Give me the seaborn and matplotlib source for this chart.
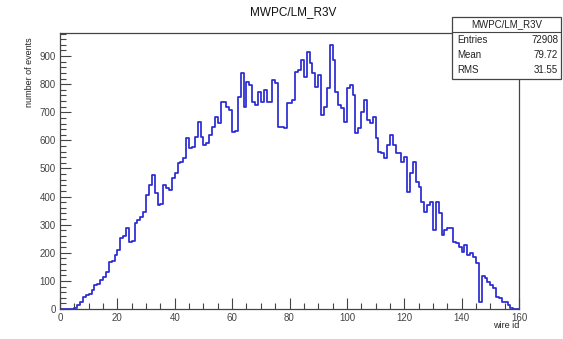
import numpy as np
import pandas as pd
import matplotlib
matplotlib.use("Agg")
import matplotlib.pyplot as plt
import seaborn as sns
from matplotlib.ticker import MultipleLocator
from matplotlib.patches import Rectangle
from matplotlib.lines import Line2D

# ---------------- data ----------------
title = "MWPC/LM_R3V"
x_label = "wire id"
y_label = "number of events"
bin_edges = list(range(0, 161))
counts = [
    0, 0, 0, 0, 0, 5, 14, 26, 44, 50,
    52, 68, 85, 88, 103, 115, 133, 168, 170, 192,
    210, 252, 258, 287, 240, 242, 305, 317, 328, 346,
    406, 441, 477, 411, 370, 375, 441, 432, 423, 466,
    484, 519, 522, 537, 608, 573, 576, 612, 665, 612,
    583, 590, 619, 648, 683, 662, 737, 737, 719, 708,
    630, 632, 754, 840, 719, 808, 797, 737, 726, 772,
    737, 779, 737, 737, 815, 804, 648, 648, 644, 733,
    733, 744, 843, 850, 886, 825, 914, 875, 840, 790,
    832, 690, 719, 786, 939, 886, 772, 726, 715, 665,
    786, 797, 761, 626, 644, 701, 744, 672, 662, 683,
    608, 558, 555, 537, 583, 619, 583, 555, 555, 523,
    540, 416, 484, 523, 452, 434, 381, 345, 370, 381,
    281, 381, 342, 263, 281, 288, 288, 238, 235, 221,
    203, 228, 192, 199, 185, 164, 25, 117, 110, 96,
    85, 75, 43, 39, 25, 25, 14, 4, 0, 0,
]
stats_title = "MWPC/LM_R3V"
stats_labels = ["Entries", "Mean", "RMS"]
stats_values = ["72908", "79.72", "31.55"]

# ---------------- style ----------------
sns.set_theme(style="white")
plt.rcParams['font.family'] = ['Liberation Sans', 'DejaVu Sans']

W, H = 563, 339
fig = plt.figure(figsize=(W / 100, H / 100), dpi=100)
fig.patch.set_facecolor("white")

ax_left, ax_right, ax_top, ax_bottom = 60, 519, 33, 309
ax = fig.add_axes([ax_left / W, 1 - ax_bottom / H,
                   (ax_right - ax_left) / W, (ax_bottom - ax_top) / H])

df = pd.DataFrame({"wire": np.arange(len(counts)) + 0.5, "count": counts})
sns.histplot(data=df, x="wire", weights="count", bins=bin_edges,
             element="step", fill=False, color="#2a2ad0", linewidth=1.25, ax=ax)

ax.set_xlim(0, 160)
ax.set_ylim(0, 982)
ax.set_xlabel("")
ax.set_ylabel("")
ax.xaxis.set_major_locator(MultipleLocator(20))
ax.xaxis.set_minor_locator(MultipleLocator(5))
ax.yaxis.set_major_locator(MultipleLocator(100))
ax.yaxis.set_minor_locator(MultipleLocator(20))
ax.tick_params(which="both", direction="in", left=True, bottom=True,
               top=False, right=False, colors="#444444", width=0.8)
ax.tick_params(which="major", length=8, labelsize=7, pad=3)
ax.tick_params(which="minor", length=4)
for s in ax.spines.values():
    s.set_color("#444444")
    s.set_linewidth(0.9)

# title
fig.text(293 / W, 1 - 12 / H, title, ha="center", va="center",
         fontsize=8.5, color="#111111")
# axis labels
fig.text(30 / W, 1 - 37 / H, y_label, rotation=90, ha="center", va="top",
         fontsize=6.5, color="#222222")
fig.text(519 / W, 1 - 326 / H, x_label, ha="right", va="center",
         fontsize=6.5, color="#222222")

# stats box
bx0, bx1, by0, by1 = 452, 561, 17, 79
fig.patches.append(Rectangle((bx0 / W, 1 - by1 / H), (bx1 - bx0) / W,
                             (by1 - by0) / H, transform=fig.transFigure,
                             facecolor="white", edgecolor="#444444",
                             linewidth=0.9, zorder=5))
fig.lines.append(Line2D([bx0 / W, bx1 / W], [1 - 32 / H, 1 - 32 / H],
                        transform=fig.transFigure, color="#444444",
                        linewidth=0.8, zorder=6))
fig.text((bx0 + bx1) / 2 / W, 1 - 24 / H, stats_title, ha="center",
         va="center", fontsize=7, color="#222222", zorder=7)
for i, (lab, val) in enumerate(zip(stats_labels, stats_values)):
    yy = 1 - (40 + 15 * i) / H
    fig.text(457 / W, yy, lab, ha="left", va="center", fontsize=7,
             color="#222222", zorder=7)
    fig.text(558 / W, yy, val, ha="right", va="center", fontsize=7,
             color="#222222", zorder=7)

fig.savefig("out.png", dpi=100, facecolor="white")
